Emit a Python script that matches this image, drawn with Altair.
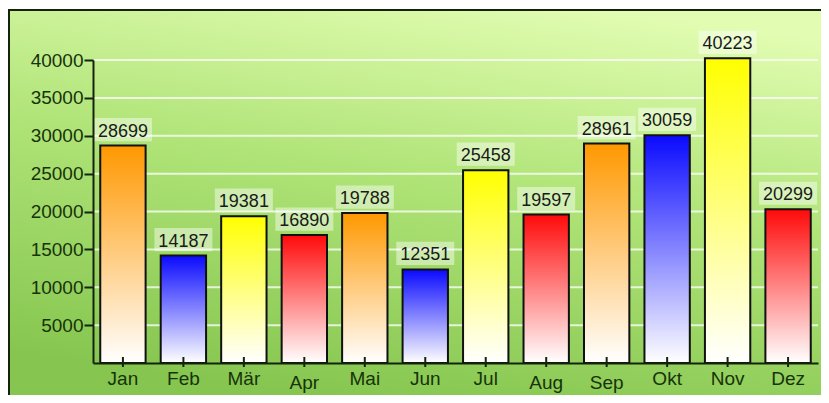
import altair as alt
import pandas as pd

months = ["Jan", "Feb", "Mär", "Apr", "Mai", "Jun", "Jul", "Aug", "Sep", "Okt", "Nov", "Dez"]
values = [28699, 14187, 19381, 16890, 19788, 12351, 25458, 19597, 28961, 30059, 40223, 20299]
groups = ["orange", "blue", "yellow", "red", "orange", "blue", "yellow", "red", "orange", "blue", "yellow", "red"]
y_ticks = [5000, 10000, 15000, 20000, 25000, 30000, 35000, 40000]
low_labels = ["Apr", "Aug", "Sep"]

top_colors = {"orange": "#ff9800", "blue": "#0a0aff", "yellow": "#ffff00", "red": "#ff0a0a"}

df = pd.DataFrame({"month": months, "value": values, "group": groups})
grid_df = pd.DataFrame({"value": y_ticks})
bg_df = pd.DataFrame({"a": [0]})

W, H = 813, 387
X0, X1 = 85, 810
Y0, Y1 = 355, 52

xscale = alt.Scale(domain=months, range=[X0, X1], paddingInner=0.25, paddingOuter=0.12)
yscale = alt.Scale(domain=[0, 40000], range=[Y0, Y1], nice=False, zero=True)

label_color = "#17330a"
axis_color = "#14240c"
font = "Liberation Sans"

low_expr = "indexof(%s, datum.value) >= 0" % str(low_labels).replace("'", "\"")

x_axis = alt.Axis(offset=Y0 - H, ticks=False, tickSize=0, domainColor=axis_color, domainWidth=2,
                  labelFont=font, labelFontSize=19, labelColor=label_color, labelAngle=0,
                  labelPadding={"condition": {"test": low_expr, "value": 10}, "value": 6},
                  grid=False, title=None, zindex=2)
y_axis = alt.Axis(offset=-X0, values=y_ticks, tickSize=9, tickWidth=2, tickColor=axis_color,
                  domainColor=axis_color, domainWidth=2, labelFont=font, labelFontSize=19,
                  labelColor=label_color, labelPadding=1, grid=False, format="d", title=None,
                  zindex=2)

x_enc = alt.X("month:N", scale=xscale, sort=months, axis=x_axis, title=None)
y_enc = alt.Y("value:Q", scale=yscale, axis=y_axis, title=None)

bg = alt.Chart(bg_df).mark_rect(
    fill=alt.Gradient(
        gradient="linear",
        stops=[alt.GradientStop(color="#e2fdb2", offset=0),
               alt.GradientStop(color="#b0e478", offset=0.45),
               alt.GradientStop(color="#86c650", offset=1)],
        x1=0.75, y1=0, x2=0.45, y2=1,
    ),
    stroke="#14240c", strokeWidth=2,
).encode(x=alt.value(1), x2=alt.value(W + 10), y=alt.value(2), y2=alt.value(H + 10))

grid = alt.Chart(grid_df).mark_rule(color="#ffffff", strokeWidth=2, opacity=0.75).encode(
    y=y_enc,
    x=alt.value(X0 + 1), x2=alt.value(X1),
)

bar_layers = []
for g, c in top_colors.items():
    bar_layers.append(
        alt.Chart(df).transform_filter(alt.datum.group == g).mark_bar(
            fill=alt.Gradient(
                gradient="linear",
                stops=[alt.GradientStop(color=c, offset=0),
                       alt.GradientStop(color="#ffffff", offset=1)],
                x1=0, y1=0, x2=0, y2=1,
            ),
            stroke="#111111", strokeWidth=2,
        ).encode(x=x_enc, y=y_enc)
    )

boxes = alt.Chart(df).mark_point(
    shape="M-1,-0.4H1V0.4H-1Z", filled=True, fill="#ffffff", opacity=0.45,
    size=58 * 58, yOffset=-16, strokeWidth=0,
).encode(x=x_enc, y=y_enc)

texts = alt.Chart(df).mark_text(
    font=font, fontSize=18, color="#1a1a1a", baseline="alphabetic", dy=-9,
).encode(
    x=x_enc, y=y_enc,
    text=alt.Text("value:Q", format="d"),
)

xticks = alt.Chart(df).mark_rule(color=axis_color, strokeWidth=2, yOffset=-6, y2Offset=4).encode(
    x=x_enc,
    y=alt.datum(0, scale=yscale, axis=y_axis),
    y2=alt.datum(0),
)

chart = alt.layer(bg, grid, *bar_layers, boxes, texts, xticks).properties(
    width=W, height=H, padding=0, autosize=alt.AutoSizeParams(type="none"),
).configure_view(stroke=None)

chart.save("out.html", embed_options={"renderer": "svg", "actions": False})
